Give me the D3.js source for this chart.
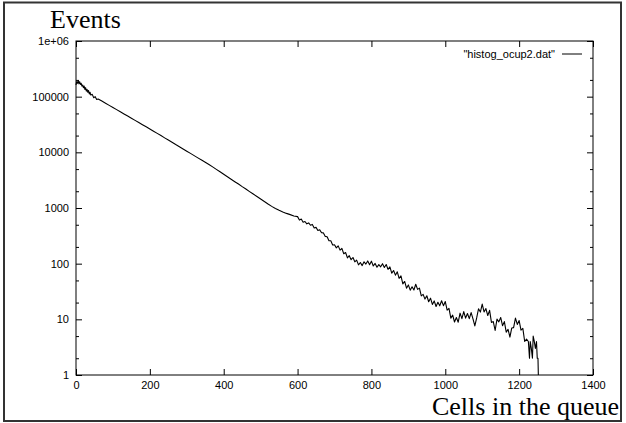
<!DOCTYPE html>
<html>
<head>
<meta charset="utf-8">
<script src="https://cdn.jsdelivr.net/npm/d3@7"></script>
<style>
html,body{margin:0;padding:0;background:#fff;}
svg{display:block;}
</style>
</head>
<body>
<svg id="chart" width="626" height="423"></svg>
<script>
// ---- data ----
const seriesName = '"histog_ocup2.dat"';
const yLabel = "Events";
const xLabel = "Cells in the queue";
const xTicks = [0, 200, 400, 600, 800, 1000, 1200, 1400];
const yTicks = [1, 10, 100, 1000, 10000, 100000, 1000000];
const yTickLabels = ["1", "10", "100", "1000", "10000", "100000", "1e+06"];
const yMinorTicks = [2, 5, 20, 50, 200, 500, 2000, 5000, 20000, 50000, 200000, 500000];

const cells = [
  0,2,4,6,8,10,12,14,16,18,20,22,24,26,28,30,32,34,36,38,40,
  44,48,52,56,60,
  70,80,90,100,110,120,130,140,150,160,
  170,180,190,200,210,220,230,240,250,260,
  270,280,290,300,310,320,330,340,350,360,
  370,380,390,400,410,420,430,440,450,460,
  470,480,490,500,510,520,530,540,550,560,
  570,580,590,
  600,605,610,615,620,625,630,635,640,645,
  650,655,660,665,670,675,680,685,690,695,
  700,705,710,715,720,725,730,735,740,745,
  750,755,760,765,770,775,780,785,790,795,
  800,805,810,815,820,825,830,835,840,845,
  850,855,860,865,870,875,880,885,890,895,
  900,905,910,915,920,925,930,935,940,945,
  950,955,960,965,970,975,980,985,990,995,
  1000,1005,1010,1015,1020,1025,1030,1035,1040,1045,
  1050,1055,1060,1065,1070,1075,1080,1085,1090,1095,
  1100,1105,1110,1115,1120,1125,1130,1135,1140,1145,
  1150,1155,1160,1165,1170,1175,1180,1185,1190,1195,
  1200,1205,1210,1215,1220,
  1225,1228,1230,1233,1236,1238,1241,1244,1247,1249,1251,1252
];
const events = [
  162000,186000,174000,195000,170000,186000,166000,174000,155000,162000,145000,155000,135000,145000,126000,135000,120000,129000,112000,120000,107000,
  110000,95500,100000,89000,91000,
  83400,76300,69800,63900,58500,53500,49000,44800,41000,37500,
  34300,31400,28700,26300,24000,21900,20000,18200,16600,15200,
  13800,12600,11500,10500,9580,8730,7960,7280,6640,6050,
  5480,4950,4480,4040,3650,3290,2970,2690,2420,2190,
  1970,1780,1610,1450,1310,1180,1070,980,910,850,
  800,760,720,
  700,606,635,556,572,519,540,490,507,439,
  449,394,405,359,357,309,305,258,258,216,
  218,192,209,175,188,151,159,127,139,118,
  129,108,116,95.2,105,92.3,108,98.4,112,95.9,
  111,90.9,101,86.1,96.3,87.7,100,85.5,96.6,79.1,
  87.6,67.6,75.5,62.2,71.4,54.5,60.3,43.4,47.9,36.3,
  41.5,33.4,38.4,33.6,42.7,34.5,36.3,26.3,28.1,23.1,
  26.5,20.7,24.0,18.5,21.4,17.0,20.3,17.5,21.6,17.6,
  20.9,14.6,15.8,10.5,11.9,8.95,10.8,8.87,12.9,10.3,
  13.8,10.5,12.7,10.3,13.2,10.2,7.6,10.6,15.5,13.5,
  18.8,13.6,15.6,11.7,14.5,8.8,9.1,6.3,10.1,9.0,
  10.8,7.7,9.1,5.9,6.6,4.8,7.0,7.1,10.5,8.1,
  9.5,6.4,6.9,4.0,4.4,
  4,2,4,3,2,5,4,3,4,2,2,1
];

// ---- drawing ----
const svg = d3.select("#chart");
const W = 626, H = 423;
const plot = {left: 76, right: 593, top: 41, bottom: 375};
const sans = "'Liberation Sans', Arial, Helvetica, sans-serif";
const serif = "'Liberation Serif', 'Times New Roman', Times, serif";

svg.append("rect").attr("width", W).attr("height", H).attr("fill", "#fff");
svg.append("rect")
  .attr("x", 4).attr("y", 2.5).attr("width", 617).attr("height", 418.5)
  .attr("fill", "none").attr("stroke", "#333").attr("stroke-width", 2);

const x = d3.scaleLinear().domain([0, 1400]).range([plot.left, plot.right]);
const y = d3.scaleLog().domain([1, 1e6]).range([plot.bottom, plot.top]);

function styleAxis(g) {
  g.select(".domain").remove();
  g.selectAll(".tick line").attr("stroke", "#000").attr("stroke-width", 1);
  g.selectAll(".tick text").attr("fill", "#000").style("font-family", sans).style("font-size", "11px");
}

// bottom axis
svg.append("g").attr("transform", `translate(0,${plot.bottom})`)
  .call(d3.axisBottom(x).tickValues(xTicks).tickFormat(d3.format("d")).tickSizeInner(-6).tickSizeOuter(0).tickPadding(6))
  .call(styleAxis);
// top axis (mirror ticks)
svg.append("g").attr("transform", `translate(0,${plot.top})`)
  .call(d3.axisTop(x).tickValues(xTicks).tickFormat("").tickSizeInner(-6).tickSizeOuter(0))
  .call(styleAxis);
// left axis
svg.append("g").attr("transform", `translate(${plot.left},0)`)
  .call(d3.axisLeft(y).tickValues(yTicks).tickFormat((d, i) => yTickLabels[i]).tickSizeInner(-6).tickSizeOuter(0).tickPadding(7))
  .call(styleAxis);
svg.append("g").attr("transform", `translate(${plot.left},0)`)
  .call(d3.axisLeft(y).tickValues(yMinorTicks).tickFormat("").tickSizeInner(-3).tickSizeOuter(0))
  .call(styleAxis);
// right axis
svg.append("g").attr("transform", `translate(${plot.right},0)`)
  .call(d3.axisRight(y).tickValues(yTicks).tickFormat("").tickSizeInner(-6).tickSizeOuter(0))
  .call(styleAxis);
svg.append("g").attr("transform", `translate(${plot.right},0)`)
  .call(d3.axisRight(y).tickValues(yMinorTicks).tickFormat("").tickSizeInner(-3).tickSizeOuter(0))
  .call(styleAxis);

// frame
svg.append("rect")
  .attr("x", plot.left).attr("y", plot.top)
  .attr("width", plot.right - plot.left).attr("height", plot.bottom - plot.top)
  .attr("fill", "none").attr("stroke", "#000").attr("stroke-width", 1);

// data line
const data = cells.map((c, i) => ({c: c, v: events[i]}));
const line = d3.line().x(d => x(d.c)).y(d => y(d.v));
svg.append("path").datum(data)
  .attr("d", line)
  .attr("fill", "none").attr("stroke", "#000").attr("stroke-width", 1.1)
  .attr("stroke-linejoin", "round");

// legend
svg.append("text").attr("x", 555).attr("y", 54).attr("dy", "0.35em")
  .attr("text-anchor", "end").style("font-family", sans).style("font-size", "11px")
  .text(seriesName);
svg.append("line").attr("x1", 562).attr("x2", 582).attr("y1", 54).attr("y2", 54)
  .attr("stroke", "#000").attr("stroke-width", 1);

// axis titles
svg.append("text").attr("x", 50).attr("y", 28)
  .style("font-family", serif).style("font-size", "26px").text(yLabel);
svg.append("text").attr("x", 619).attr("y", 415).attr("text-anchor", "end")
  .style("font-family", serif).style("font-size", "26px").text(xLabel);
</script>
</body>
</html>
